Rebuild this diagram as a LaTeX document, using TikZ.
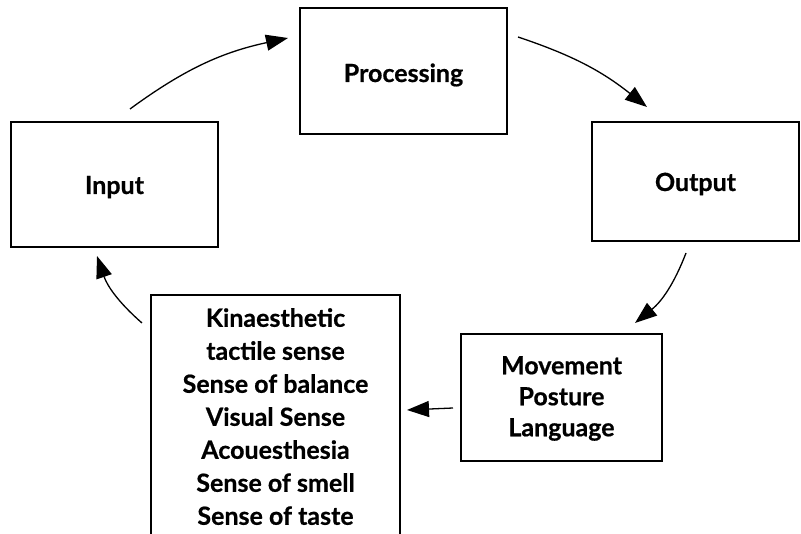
\documentclass[tikz,border=0pt]{standalone}
\usepackage{fontspec}
\setmainfont{Lato}[BoldFeatures={FakeBold=0.6}]
\usetikzlibrary{arrows.meta}
\tikzset{
  box/.style={draw, line width=1.3pt, minimum width=#1, inner sep=0pt},
  lbl/.style={font=\bfseries\fontsize{25}{31}\selectfont, align=center, inner sep=0pt},
  conn/.style={line width=1.3pt, -{Triangle[length=22pt,width=16pt]}},
}
\begin{document}
\begin{tikzpicture}[x=1pt,y=-1pt]
\useasboundingbox (0,0) rectangle (801,534);
% boxes
\node[box=207pt, minimum height=125pt] (input) at (114.5,184.5) {};
\node[box=207pt, minimum height=126pt] (proc) at (403.5,71) {};
\node[box=207pt, minimum height=119pt] (output) at (695.5,181.5) {};
\node[box=201pt, minimum height=127pt] (move) at (561.5,397.5) {};
\draw[line width=1.3pt] (151,540) -- (151,295) -- (400,295) -- (400,540);
% labels
\node[lbl, anchor=base] (tinput) at (114.5,194) {Input};
\node[lbl, anchor=base] (tproc) at (403.5,82) {Processing};
\node[lbl, anchor=base] (toutput) at (695.5,191) {Output};
\node[lbl, anchor=north] (tmove) at (561.5,356) {Movement\\Posture\\Language};
\node[lbl, anchor=north, font=\bfseries\fontsize{25}{33}\selectfont] (senses) at (275.5,308)
  {Kinaesthetic\\tactile sense\\Sense of balance\\Visual Sense\\Acouesthesia\\Sense of smell\\Sense of taste};
% connector end points
\coordinate (a1s) at (130,109); \coordinate (a1e) at (288,38);
\coordinate (a2s) at (518,37);  \coordinate (a2e) at (647,107);
\coordinate (a3s) at (686,253); \coordinate (a3e) at (635,323);
\coordinate (a4s) at (453,408); \coordinate (a4e) at (407,410);
\coordinate (a5s) at (142,323); \coordinate (a5e) at (97,256);
\draw[conn] (a1s) to[bend left=12] (a1e);
\draw[conn] (a2s) to[bend left=10] (a2e);
\draw[conn] (a3s) to[bend left=15] (a3e);
\draw[conn] (a4s) -- (a4e);
\draw[conn] (a5s) to[bend left=15] (a5e);
\end{tikzpicture}
\end{document}
